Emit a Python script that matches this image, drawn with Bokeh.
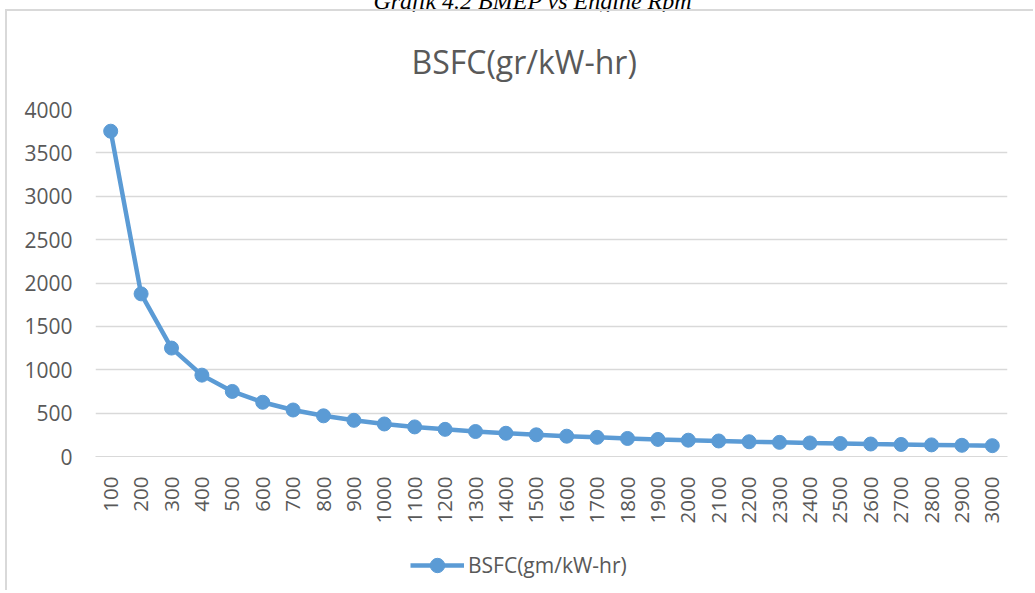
from bokeh.plotting import figure
from bokeh.models import (FactorRange, Range1d, Legend, LegendItem, Title, Div,
                          ColumnDataSource)
from bokeh.layouts import column
from bokeh.embed import file_html
from bokeh.resources import INLINE
import math

rpm = ["100", "200", "300", "400", "500", "600", "700", "800", "900", "1000",
       "1100", "1200", "1300", "1400", "1500", "1600", "1700", "1800", "1900", "2000",
       "2100", "2200", "2300", "2400", "2500", "2600", "2700", "2800", "2900", "3000"]
bsfc = [3750, 1875, 1250, 938, 750, 625, 536, 469, 417, 375,
        341, 313, 288, 268, 250, 234, 221, 208, 197, 188,
        179, 170, 163, 156, 150, 144, 139, 134, 129, 125]
y_ticks = [0, 500, 1000, 1500, 2000, 2500, 3000, 3500, 4000]

FONT = "Open Sans"
GREY = "#595959"
BLUE = "#5B9BD5"
BORDER = "2px solid #d9d9d9"

p = figure(width=1028, height=519, x_range=FactorRange(*rpm, range_padding=0),
           y_range=Range1d(0, 4000), output_backend="svg", toolbar_location=None,
           min_border_left=88, min_border_right=28, min_border_top=96, min_border_bottom=74)
p.outline_line_color = None
p.background_fill_color = "white"
p.border_fill_color = "white"
p.styles = {"border-top": BORDER, "border-left": BORDER, "margin-left": "5px"}

src = ColumnDataSource(dict(x=rpm, y=bsfc))
ln = p.line("x", "y", source=src, line_color=BLUE, line_width=4.5)
sc = p.scatter("x", "y", source=src, size=14, fill_color=BLUE, line_color=BLUE)

p.yaxis.ticker = y_ticks
p.yaxis.axis_line_color = None
p.yaxis.major_tick_line_color = None
p.yaxis.minor_tick_line_color = None
p.yaxis.major_label_text_font = FONT
p.yaxis.major_label_text_font_size = "21px"
p.yaxis.major_label_text_color = GREY
p.yaxis.major_label_standoff = 17

p.xaxis.axis_line_color = "#d9d9d9"
p.xaxis.major_tick_line_color = None
p.xaxis.minor_tick_line_color = None
p.xaxis.major_label_orientation = math.pi / 2
p.xaxis.major_label_text_font = FONT
p.xaxis.major_label_text_font_size = "20.5px"
p.xaxis.major_label_text_color = GREY
p.xaxis.major_label_standoff = 14

p.xgrid.grid_line_color = None
p.ygrid.grid_line_color = "#d9d9d9"
p.ygrid.grid_line_width = 1.3

p.add_layout(Title(text="BSFC(gr/kW-hr)", text_font=FONT, text_font_size="32px",
                   text_color=GREY, text_font_style="normal", align="left",
                   offset=316, standoff=53), "above")

# legend strip below the chart
lg = figure(width=1028, height=62, x_range=Range1d(0, 1), y_range=Range1d(0, 1),
            output_backend="svg", toolbar_location=None,
            min_border_left=0, min_border_right=0, min_border_top=0, min_border_bottom=0)
lg.axis.visible = False
lg.grid.grid_line_color = None
lg.outline_line_color = None
lg.styles = {"border-left": BORDER, "margin-left": "5px"}
proxy = ColumnDataSource(dict(x=[-5.0], y=[-5.0]))
lln = lg.line("x", "y", source=proxy, line_color=BLUE, line_width=4.5)
lsc = lg.scatter("x", "y", source=proxy, size=14, fill_color=BLUE, line_color=BLUE)
legend = Legend(items=[LegendItem(label="BSFC(gm/kW-hr)", renderers=[lln, lsc])],
                orientation="horizontal", location=(315, 7),
                label_text_font=FONT, label_text_font_size="21px", label_text_color=GREY,
                glyph_width=54, glyph_height=36, border_line_color=None,
                background_fill_alpha=0, padding=4, label_standoff=4, margin=0)
lg.add_layout(legend)

cap = Div(text="Grafik 4.2 BMEP vs Engine Rpm", width=1035, height=15,
          styles={"font-family": "Liberation Serif", "font-style": "italic",
                  "font-size": "24px", "color": "#000000", "text-align": "center",
                  "line-height": "24px", "margin-top": "-11px", "padding-left": "20px",
                  "overflow": "visible"})

layout = column(cap, p, lg, spacing=0)
open("out.html", "w").write(file_html(layout, INLINE))
